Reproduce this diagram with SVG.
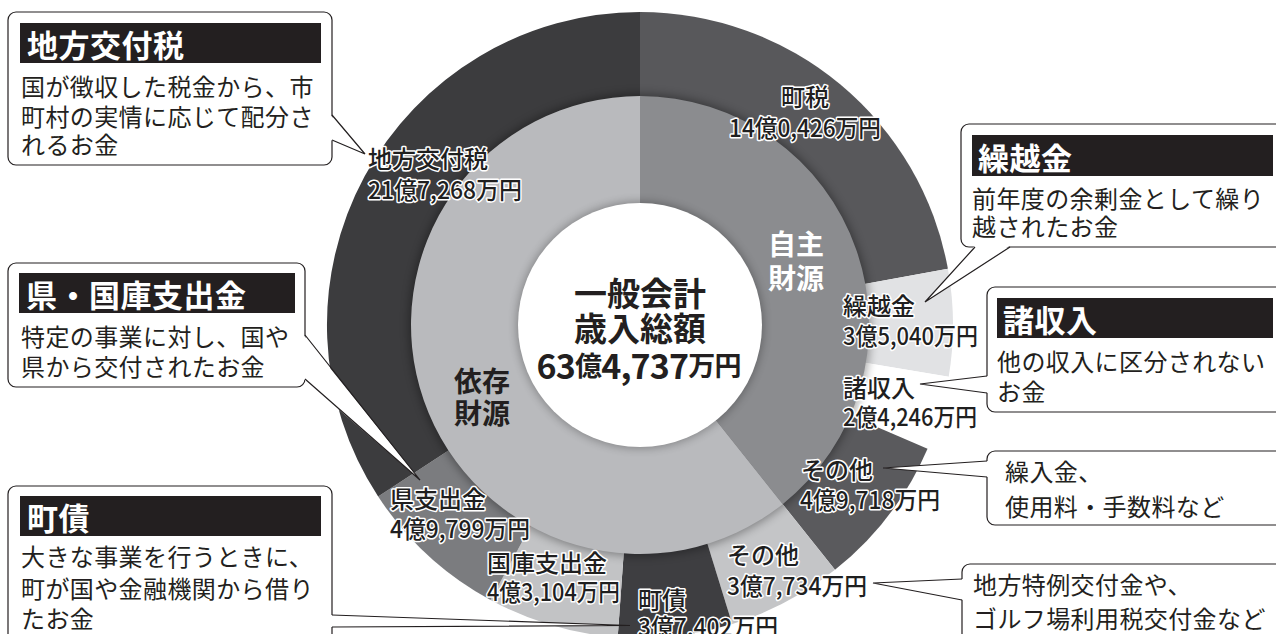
<svg xmlns="http://www.w3.org/2000/svg" width="1276" height="634" viewBox="0 0 1276 634">
<style>
text{font-family:"Noto Sans CJK JP","Noto Sans",sans-serif;dominant-baseline:central}
.box{fill:#fff;stroke:#231f20;stroke-width:1.2}
.bar{fill:#231f20}
.ttl{font-size:31px;font-weight:700;fill:#fff;letter-spacing:0.5px}
.body{font-size:24px;fill:#231f20;letter-spacing:0.4px}
.lbl{font-size:24px;font-weight:500;fill:#1f1f1f;stroke:#fff;stroke-width:3px;paint-order:stroke fill;stroke-linejoin:round}
.ctr{font-weight:700;fill:#231f20;text-anchor:middle}
.ptr-fill{fill:#fff;stroke:none}
.ptr{fill:none;stroke:#231f20;stroke-width:1.2;stroke-linejoin:miter}
</style>
<defs>
<filter id="sh" x="-20%" y="-20%" width="140%" height="140%"><feGaussianBlur stdDeviation="5"/></filter>
</defs>
<rect width="1276" height="634" fill="#fff"/>

<g id="donut">
  <g id="outer-ring">
    <path d="M640,325 L640,12 A313,313 0 0 1 947.9,268.74 Z" fill="#58585b"/>
    <path d="M640,325 L947.9,268.74 A313,313 0 0 1 948.69,376.75 Z" fill="#e1e2e4"/>
    <path d="M640,325 L948.69,376.75 A313,313 0 0 1 927.54,448.65 Z" fill="#ffffff"/>
    <path d="M640,325 L927.54,448.65 A313,313 0 0 1 834.99,569.86 Z" fill="#5a5a5d"/>
    <path d="M640,325 L834.99,569.86 A313,313 0 0 1 732.2,624.11 Z" fill="#c4c5c7"/>
    <path d="M640,325 L732.2,624.11 A313,313 0 0 1 617.72,637.21 Z" fill="#3e3e41"/>
    <path d="M640,325 L617.72,637.21 A313,313 0 0 1 490.51,600.01 Z" fill="#c2c3c5"/>
    <path d="M640,325 L490.51,600.01 A313,313 0 0 1 378.15,496.53 Z" fill="#7b7c7f"/>
    <path d="M640,325 L378.15,496.53 A313,313 0 0 1 640,12 Z" fill="#3c3c3e"/>
  </g>
  <circle cx="640" cy="325" r="231" fill="#000" opacity="0.35" filter="url(#sh)"/>
  <g id="inner-ring">
    <path d="M640,325 L640,96 A229,229 0 0 1 782.66,504.14 Z" fill="#8b8c8f"/>
    <path d="M640,325 L782.66,504.14 A229,229 0 1 1 640,96 Z" fill="#b9babd"/>
  </g>
  <circle cx="640" cy="325" r="123" fill="#000" opacity="0.3" filter="url(#sh)"/>
  <circle cx="640" cy="325" r="122" fill="#fff"/>
</g>

<g id="center-label">
  <text class="ctr" x="640" y="292" font-size="33">一般会計</text>
  <text class="ctr" x="640" y="327" font-size="33">歳入総額</text>
  <text class="ctr" x="639" y="364" font-size="34" textLength="205"><tspan>63</tspan><tspan font-size="27">億</tspan><tspan>4,737</tspan><tspan font-size="27">万円</tspan></text>
</g>

<g id="inner-labels">
  <text x="796" y="243" font-size="28" font-weight="700" fill="#fff" text-anchor="middle">自主</text>
  <text x="796" y="277" font-size="28" font-weight="700" fill="#fff" text-anchor="middle">財源</text>
  <text x="482" y="380" font-size="28" font-weight="700" fill="#231f20" text-anchor="middle">依存</text>
  <text x="482" y="412" font-size="28" font-weight="700" fill="#231f20" text-anchor="middle">財源</text>
</g>

<g id="callout-chihoukoufuzei">
  <rect class="box" x="8" y="12" width="324" height="153" rx="8"/>
  <rect class="bar" x="20" y="23" width="301" height="40"/>
  <text class="ttl" x="27" y="43">地方交付税</text>
  <text class="body" x="21" y="85">国が徴収した税金から、市</text>
  <text class="body" x="21" y="115">町村の実情に応じて配分さ</text>
  <text class="body" x="21" y="143">れるお金</text>
</g>

<g id="callout-kurikoshikin">
  <rect class="box" x="961" y="124" width="330" height="123" rx="8"/>
  <rect class="bar" x="972" y="135" width="301" height="41"/>
  <text class="ttl" x="978" y="156">繰越金</text>
  <text class="body" x="972" y="197">前年度の余剰金として繰り</text>
  <text class="body" x="972" y="225">越されたお金</text>
</g>

<g id="callout-shoshuunyuu">
  <rect class="box" x="987" y="287" width="305" height="125" rx="8"/>
  <rect class="bar" x="997" y="298" width="276" height="40"/>
  <text class="ttl" x="1003" y="318">諸収入</text>
  <text class="body" x="997" y="360">他の収入に区分されない</text>
  <text class="body" x="997" y="390">お金</text>
</g>

<g id="callout-sonota1">
  <rect class="box" x="987" y="451" width="305" height="74" rx="8"/>
  <text class="body" x="1005" y="470">繰入金、</text>
  <text class="body" x="1005" y="505">使用料・手数料など</text>
</g>

<g id="callout-sonota2">
  <rect class="box" x="962" y="564" width="330" height="90" rx="8"/>
  <text class="body" x="973" y="583">地方特例交付金や、</text>
  <text class="body" x="973" y="617">ゴルフ場利用税交付金など</text>
</g>

<g id="callout-shishutsukin">
  <rect class="box" x="8" y="263" width="297" height="124" rx="8"/>
  <rect class="bar" x="19" y="273" width="276" height="40"/>
  <text class="ttl" x="26" y="293">県・国庫支出金</text>
  <text class="body" x="21" y="335">特定の事業に対し、国や</text>
  <text class="body" x="21" y="365">県から交付されたお金</text>
</g>

<g id="callout-chousai">
  <rect class="box" x="8" y="486" width="324" height="170" rx="8"/>
  <rect class="bar" x="20" y="496" width="301" height="40"/>
  <text class="ttl" x="27" y="516">町債</text>
  <text class="body" x="21" y="555">大きな事業を行うときに、</text>
  <text class="body" x="21" y="587">町が国や金融機関から借り</text>
  <text class="body" x="21" y="617">たお金</text>
</g>

<g id="connectors">
  <polygon class="ptr-fill" points="330.5,115 365,154 330.5,140"/>
  <polyline class="ptr" points="332,115 365,154 332,140"/>
  <polygon class="ptr-fill" points="975,245.5 925,302 1010,245.5"/>
  <polyline class="ptr" points="975,247 925,302 1010,247"/>
  <polygon class="ptr-fill" points="988.5,376 920,384 988.5,393"/>
  <polyline class="ptr" points="987,376 920,384 987,393"/>
  <polygon class="ptr-fill" points="988.5,461 883,468 988.5,477"/>
  <polyline class="ptr" points="987,461 883,468 987,477"/>
  <polygon class="ptr-fill" points="963.5,579 873,583 963.5,600"/>
  <polyline class="ptr" points="962,579 873,583 962,600"/>
  <polygon class="ptr-fill" points="303.5,335 420,480 303.5,379"/>
  <polyline class="ptr" points="305,335 420,480 305,379"/>
  <polygon class="ptr-fill" points="330.5,615 630,625.5 330.5,627"/>
  <polyline class="ptr" points="332,615 630,625.5 332,627"/>
</g>

<g id="ring-labels">
  <g id="lbl-chihoukoufuzei">
    <text class="lbl" x="368" y="157">地方交付税</text>
    <text class="lbl" x="368" y="188" textLength="154" lengthAdjust="spacingAndGlyphs">21億7,268万円</text>
  </g>
  <g id="lbl-chouzei">
    <text class="lbl" x="805" y="95" text-anchor="middle">町税</text>
    <text class="lbl" x="729" y="126" textLength="152" lengthAdjust="spacingAndGlyphs">14億0,426万円</text>
  </g>
  <g id="lbl-kurikoshikin">
    <text class="lbl" x="843" y="304">繰越金</text>
    <text class="lbl" x="843" y="334" textLength="135" lengthAdjust="spacingAndGlyphs">3億5,040万円</text>
  </g>
  <g id="lbl-shoshuunyuu">
    <text class="lbl" x="843" y="386">諸収入</text>
    <text class="lbl" x="843" y="415" textLength="134" lengthAdjust="spacingAndGlyphs">2億4,246万円</text>
  </g>
  <g id="lbl-sonota1">
    <text class="lbl" x="801" y="468">その他</text>
    <text class="lbl" x="800" y="498" textLength="140" lengthAdjust="spacingAndGlyphs">4億9,718万円</text>
  </g>
  <g id="lbl-sonota2">
    <text class="lbl" x="727" y="553">その他</text>
    <text class="lbl" x="727" y="584" textLength="140" lengthAdjust="spacingAndGlyphs">3億7,734万円</text>
  </g>
  <g id="lbl-chousai">
    <text class="lbl" x="638" y="598">町債</text>
    <text class="lbl" x="638" y="625" textLength="140" lengthAdjust="spacingAndGlyphs">3億7,402万円</text>
  </g>
  <g id="lbl-kokko">
    <text class="lbl" x="487" y="561">国庫支出金</text>
    <text class="lbl" x="487" y="590" textLength="133" lengthAdjust="spacingAndGlyphs">4億3,104万円</text>
  </g>
  <g id="lbl-ken">
    <text class="lbl" x="390" y="497">県支出金</text>
    <text class="lbl" x="390" y="527" textLength="140" lengthAdjust="spacingAndGlyphs">4億9,799万円</text>
  </g>
</g>
</svg>
